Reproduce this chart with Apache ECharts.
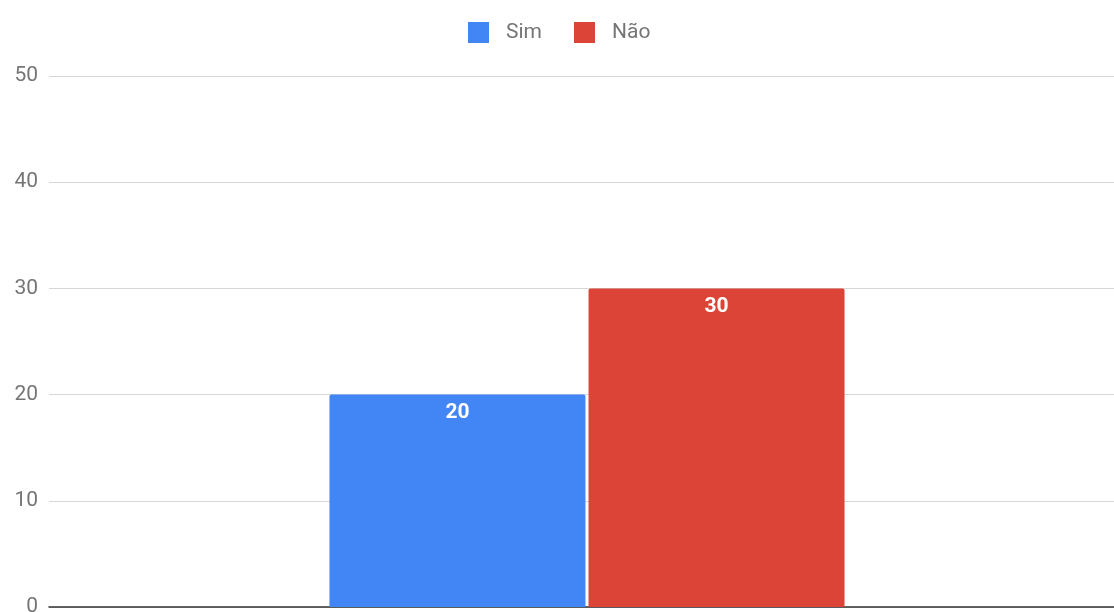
<!DOCTYPE html>
<html>
<head>
<meta charset="utf-8">
<script src="https://cdn.jsdelivr.net/npm/echarts@6/dist/echarts.min.js"></script>
<style>html,body{margin:0;padding:0;background:#fff;overflow:hidden;}#c{width:1114px;height:612px;}</style>
</head>
<body>
<div id="c"></div>
<script>
const categories = [''];
const seriesNames = ['Sim', 'Não'];
const simValues = [20];
const naoValues = [30];
const yTicks = [0, 10, 20, 30, 40, 50];

const chart = echarts.init(document.getElementById('c'), null, {renderer: 'canvas', width: 1114, height: 612});
const labelStyle = {show: true, position: 'insideTop', distance: 8, color: '#fff', fontWeight: 'bold', fontSize: 21, fontFamily: 'Roboto'};
chart.setOption({
  animation: false,
  textStyle: {fontFamily: 'Roboto'},
  legend: {
    top: 17, left: 463, itemWidth: 21, itemHeight: 21, itemGap: 32,
    icon: 'rect',
    textStyle: {color: '#757575', fontSize: 21, fontFamily: 'Roboto', padding: [0, 0, 0, 12]},
    data: seriesNames
  },
  grid: {left: 49, top: 76, width: 1076, height: 531, containLabel: false, outerBoundsMode: 'none'},
  xAxis: {
    type: 'category', data: categories,
    axisLine: {show: true, lineStyle: {color: '#333', width: 1.5}},
    axisTick: {show: false}, axisLabel: {show: false}
  },
  yAxis: {
    type: 'value', min: yTicks[0], max: yTicks[yTicks.length - 1], interval: 10,
    axisLine: {show: false}, axisTick: {show: false},
    axisLabel: {color: '#757575', fontSize: 21, margin: 11, fontFamily: 'Roboto'},
    splitLine: {lineStyle: {color: '#d6d6d6', width: 1}}
  },
  series: [
    {name: seriesNames[0], type: 'bar', data: simValues, barWidth: 256, barGap: '1.2%',
     itemStyle: {color: '#4285f4', borderRadius: [2, 2, 0, 0]}, label: labelStyle},
    {name: seriesNames[1], type: 'bar', data: naoValues, barWidth: 256,
     itemStyle: {color: '#db4437', borderRadius: [2, 2, 0, 0]}, label: labelStyle}
  ]
});
</script>
</body>
</html>
